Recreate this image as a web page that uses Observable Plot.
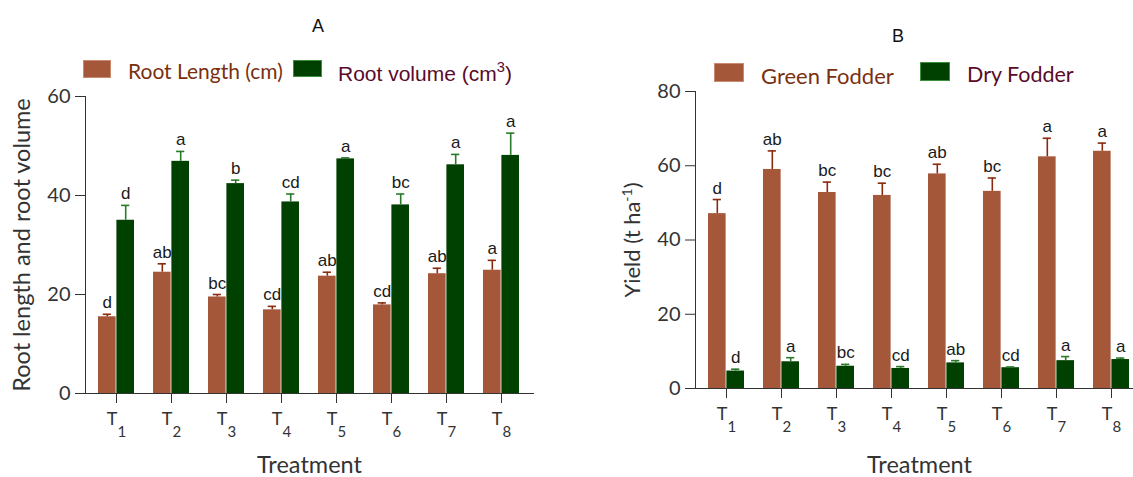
<!DOCTYPE html>
<html><head><meta charset="utf-8">
<script src="https://cdn.jsdelivr.net/npm/d3@7"></script>
<script src="https://cdn.jsdelivr.net/npm/@observablehq/plot@0.6"></script>
<style>
html,body{margin:0;padding:0;background:#fff;overflow:hidden;width:1133px;height:477px}
#wrap{position:relative;width:1133px;height:477px;overflow:hidden;background:#fff}
.abs{position:absolute;white-space:nowrap;line-height:1}
.sw{position:absolute;box-sizing:border-box}
.panel{position:absolute;top:70px;width:580px;height:407px}
.panel svg{max-width:none !important}
sup{font-size:0.7em;vertical-align:0;position:relative;top:-0.6em}
</style></head><body><div id="wrap">
<div class="panel" id="pa" style="left:0px"></div>
<div class="panel" id="pb" style="left:580px"></div>
<div class="abs" style="left:318px;top:15.8px;transform:translateX(-50%);font:18px 'Liberation Sans',Arial;color:#111">A</div>
<div class="abs" style="left:898px;top:25.8px;transform:translateX(-50%);font:18px 'Liberation Sans',Arial;color:#111">B</div>
<div class="sw" style="left:83px;top:60px;width:28px;height:18px;background:#a5573a;border:1px solid #c98a70"></div>
<div class="abs" style="left:128px;top:57.5px;font:21px Lato;color:#7a3010">Root Length (cm)</div>
<div class="sw" style="left:293px;top:60px;width:29px;height:17px;background:#004000;border:1px solid #3f8f3f"></div>
<div class="abs" style="left:338px;top:61.5px;font:21px 'Liberation Sans',Arial;color:#5a0a2a">Root volume (cm<sup>3</sup>)</div>
<div class="sw" style="left:714px;top:63px;width:30px;height:18.5px;background:#a5573a;border:1px solid #c98a70"></div>
<div class="abs" style="left:761px;top:61.5px;font:22px Lato;color:#7a3010">Green Fodder</div>
<div class="sw" style="left:920px;top:62px;width:30px;height:18.5px;background:#004000;border:1px solid #3f8f3f"></div>
<div class="abs" style="left:967px;top:61px;font:21.5px Lato;color:#5a0a2a">Dry Fodder</div>
</div>
<script>
const treatments = ["T1","T2","T3","T4","T5","T6","T7","T8"];

const rootLength = [15.5, 24.5, 19.5, 16.9, 23.7, 17.9, 24.2, 24.9];
const rootLengthErr = [0.5, 1.7, 0.5, 0.7, 0.8, 0.4, 1.1, 2.0];
const rootLengthLetters = ["d","ab","bc","cd","ab","cd","ab","a"];
const rootVolume = [35.0, 46.9, 42.4, 38.7, 47.4, 38.1, 46.2, 48.1];
const rootVolumeErr = [3.0, 2.0, 0.7, 1.6, 0.2, 2.2, 2.1, 4.5];
const rootVolumeLetters = ["d","a","b","cd","a","bc","a","a"];

const greenFodder = [47.1, 59.0, 52.8, 52.0, 57.8, 53.1, 62.4, 63.9];
const greenFodderErr = [3.8, 5.0, 2.8, 3.3, 2.6, 3.6, 5.0, 2.2];
const greenFodderLetters = ["d","ab","bc","bc","ab","bc","a","a"];
const dryFodder = [4.7, 7.2, 6.0, 5.4, 6.9, 5.6, 7.5, 7.8];
const dryFodderErr = [0.5, 1.1, 0.5, 0.5, 0.6, 0.2, 1.1, 0.4];
const dryFodderLetters = ["d","a","bc","cd","ab","cd","a","a"];

const yTicksA = [0, 20, 40, 60];
const yTicksB = [0, 20, 40, 60, 80];

const ORANGE = "#a5573a", GREEN = "#004000", ORANGE_ERR = "#8a2b0d", GREEN_ERR = "#2a7a2a";

function panel({marginLeft, marginRight, marginTop, marginBottom, yMax, yTicks, v1, e1, l1, v2, e2, l2, yLabel, yLabelSize, treatDy}) {
  const width = 580, height = 407;
  const inner = width - marginLeft - marginRight;
  const pi = 0.34, po = 0.19;
  const step = inner / (treatments.length - pi + 2 * po);
  const bw = step * (1 - pi);
  const cap = 4.5;
  const rows = treatments.map((t, i) => ({t, v1: v1[i], e1: e1[i], l1: l1[i], v2: v2[i], e2: e2[i], l2: l2[i]}));
  const off = bw / 4;
  const letterFont = {fontFamily: "'Liberation Sans', Arial", fontSize: 17, fill: "#1a1a1a", lineAnchor: "bottom", dy: -6};
  const svg = Plot.plot({
    width, height, marginLeft, marginRight, marginTop, marginBottom,
    style: {fontFamily: "Lato", fontSize: "20px", color: "#333", background: "transparent", maxWidth: "none"},
    x: {domain: treatments, paddingInner: pi, paddingOuter: po, line: true, tickSize: 10, tickPadding: 9, label: null},
    y: {domain: [0, yMax], ticks: yTicks, line: true, tickSize: 10, tickPadding: 5, label: null},
    marks: [
      Plot.barY(rows, {x: "t", y: "v1", fill: ORANGE, insetRight: bw / 2}),
      Plot.barY(rows, {x: "t", y: "v2", fill: GREEN, insetLeft: bw / 2}),
      Plot.ruleX(rows, {x: "t", y1: "v1", y2: d => d.v1 + d.e1, dx: -off, stroke: ORANGE_ERR, strokeWidth: 1.6}),
      Plot.tickY(rows, {x: "t", y: d => d.v1 + d.e1, insetLeft: bw / 2 - off - cap, insetRight: bw / 2 + off - cap, stroke: ORANGE_ERR, strokeWidth: 1.6}),
      Plot.ruleX(rows, {x: "t", y1: "v2", y2: d => d.v2 + d.e2, dx: off, stroke: GREEN_ERR, strokeWidth: 1.6}),
      Plot.tickY(rows, {x: "t", y: d => d.v2 + d.e2, insetLeft: bw / 2 + off - cap, insetRight: bw / 2 - off - cap, stroke: GREEN_ERR, strokeWidth: 1.6}),
      Plot.text(rows, {x: "t", y: d => d.v1 + d.e1, text: "l1", dx: -off, ...letterFont}),
      Plot.text(rows, {x: "t", y: d => d.v2 + d.e2, text: "l2", dx: off, ...letterFont}),
      Plot.text(["Treatment"], {frameAnchor: "bottom", dy: treatDy, fontFamily: "Lato", fontSize: 23.5, fill: "#333", lineAnchor: "bottom", textAnchor: "middle"}),
      Plot.text([yLabel], {frameAnchor: "left", dx: -63, rotate: -90, fontFamily: "Lato", fontSize: yLabelSize, fill: "#333", textAnchor: "middle", lineAnchor: "middle"})
    ]
  });
  d3.select(svg).selectAll('g[aria-label="x-axis tick label"] text').each(function() {
    const s = this.textContent;
    const sel = d3.select(this);
    sel.text(s.slice(0, 1)).attr("font-size", 18);
    sel.append("tspan").attr("dy", 12).attr("font-size", 15).text(s.slice(1));
  });
  return svg;
}

const svgA = panel({marginLeft: 85, marginRight: 47, marginTop: 26, marginBottom: 84, yMax: 60, yTicks: yTicksA,
  v1: rootLength, e1: rootLengthErr, l1: rootLengthLetters, v2: rootVolume, e2: rootVolumeErr, l2: rootVolumeLetters,
  yLabel: "Root length and root volume", yLabelSize: 23.5, treatDy: 79});
document.getElementById("pa").appendChild(svgA);

const svgB = panel({marginLeft: 115, marginRight: 17, marginTop: 21, marginBottom: 89, yMax: 80, yTicks: yTicksB,
  v1: greenFodder, e1: greenFodderErr, l1: greenFodderLetters, v2: dryFodder, e2: dryFodderErr, l2: dryFodderLetters,
  yLabel: "Yield (t ha-1)", yLabelSize: 22, treatDy: 84});
document.getElementById("pb").appendChild(svgB);
d3.select(svgB).selectAll("text").filter(function() { return this.textContent === "Yield (t ha-1)"; }).each(function() {
  const sel = d3.select(this);
  sel.text("Yield (t ha");
  sel.append("tspan").attr("dy", -8).attr("font-size", 14).text("-1");
  sel.append("tspan").attr("dy", 8).text(")");
});
</script>
</body></html>
